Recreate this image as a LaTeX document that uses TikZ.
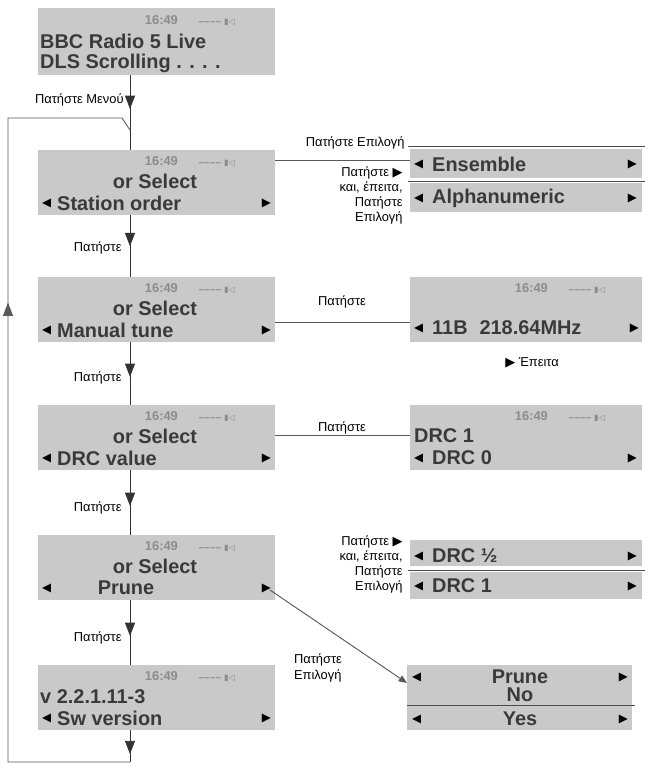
\documentclass[tikz,border=0pt]{standalone}
\usepackage{fontspec}
\setmainfont{Liberation Sans}
\newfontfamily\symfont{DejaVu Sans}
\usetikzlibrary{arrows.meta}
\usetikzlibrary{positioning}
\usetikzlibrary{decorations.markings}
\definecolor{lcdgray}{HTML}{C9C9C9}
\definecolor{lcdtext}{HTML}{3A3A3A}
\definecolor{timegray}{HTML}{8C8C8C}
\newcommand{\la}{{\symfont\fontsize{10}{10}\selectfont ◀}}
\newcommand{\ra}{{\symfont\fontsize{10}{10}\selectfont ▶}}
\newcommand{\tri}{{\symfont ▶}}
\newcommand{\clockline}{16:49\hspace{1.6em}{\symfont\fontsize{7}{7}\selectfont ‒‒‒‒ ▮◁}}

\begin{document}
\begin{tikzpicture}[x=0.03cm, y=-0.03cm,
	lcd/.style={fill=lcdgray, inner sep=0pt, anchor=north west},
	big/.style={text=lcdtext, font=\bfseries\fontsize{17}{19}\selectfont, inner sep=0pt},
	clock/.style={text=timegray, font=\bfseries\fontsize{11}{12}\selectfont, inner sep=0pt},
	lbl/.style={font=\fontsize{11}{13}\selectfont, inner sep=1pt, align=right},
	flow/.style={thick, color=black!80, postaction={decorate}, decoration={markings,
		mark=at position #1 with {\arrow{Triangle[length=4mm,width=3mm]}}}},
	link/.style={thick, color=black!65},
	]
	\useasboundingbox (0,0) rectangle (648,770);

	% Left column of screens
	\node[lcd, minimum width=237*0.03cm, minimum height=67*0.03cm] (home) at (38,8) {};
	\node[lcd, minimum width=237*0.03cm, minimum height=65*0.03cm] (order) at (38,150) {};
	\node[lcd, minimum width=237*0.03cm, minimum height=65*0.03cm] (tune) at (38,277) {};
	\node[lcd, minimum width=237*0.03cm, minimum height=65*0.03cm] (drc) at (38,405) {};
	\node[lcd, minimum width=237*0.03cm, minimum height=65*0.03cm] (prune) at (38,535) {};
	\node[lcd, minimum width=237*0.03cm, minimum height=65*0.03cm] (ver) at (38,665) {};

	% Right column of screens
	\node[lcd, minimum width=232*0.03cm, minimum height=29*0.03cm] (ens) at (410,149) {};
	\node[lcd, minimum width=232*0.03cm, minimum height=29*0.03cm] (alpha) at (410,183) {};
	\node[lcd, minimum width=232*0.03cm, minimum height=65*0.03cm] (freq) at (410,277) {};
	\node[lcd, minimum width=232*0.03cm, minimum height=65*0.03cm] (drcset) at (410,405) {};
	\node[lcd, minimum width=232*0.03cm, minimum height=26*0.03cm] (half) at (410,540) {};
	\node[lcd, minimum width=232*0.03cm, minimum height=27*0.03cm] (one) at (410,572) {};
	\node[lcd, minimum width=225*0.03cm, minimum height=65*0.03cm] (ask) at (407,665) {};

	% Screen texts
	\node[clock] (t0) at (190,20) {\clockline};
	\node[big, anchor=west] (h1) at (40,41) {BBC Radio 5 Live};
	\node[big, anchor=west] (h2) at (40,63) {DLS Scrolling . . . .};

	\foreach \b/\y/\txt in {order/150/Station order, tune/277/Manual tune, drc/405/DRC value} {
		\node[clock] at (190,\y+11) {\clockline};
		\node[big] at (155,\y+31) {or Select};
		\node[big, anchor=west] at (57,\y+53) {\txt};
		\node[anchor=west, inner sep=0pt] at (42,\y+53) {\la};
		\node[anchor=east, inner sep=0pt] at (271,\y+53) {\ra};
	}
	\node[clock] at (190,546) {\clockline};
	\node[big] at (155,566) {or Select};
	\node[big] at (126,588) {Prune};
	\node[anchor=west, inner sep=0pt] at (42,588) {\la};
	\node[anchor=east, inner sep=0pt] at (271,588) {\ra};
	\node[clock] (t5) at (190,676) {\clockline};
	\node[big, anchor=west] (v1) at (40,697) {v 2.2.1.11-3};
	\node[big, anchor=west] (v2) at (57,718) {Sw version};
	\node[anchor=west, inner sep=0pt] at (42,718) {\la};
	\node[anchor=east, inner sep=0pt] at (271,718) {\ra};

	\node[big, anchor=west] at (432,164) {Ensemble};
	\node[big, anchor=west] at (432,198) {Alphanumeric};
	\node[big, anchor=west] at (432,556) {DRC ½};
	\node[big, anchor=west] at (432,586) {DRC 1};
	\foreach \y in {164,198,556,586} {
		\node[anchor=west, inner sep=0pt] at (414,\y) {\la};
		\node[anchor=east, inner sep=0pt] at (637,\y) {\ra};
	}
	\node[clock] at (560,288) {\clockline};
	\node[big, anchor=west] at (432,328) {11B\hspace{0.6em}218.64MHz};
	\node[anchor=west, inner sep=0pt] at (414,328) {\la};
	\node[anchor=east, inner sep=0pt] at (639,328) {\ra};
	\node[clock] at (560,416) {\clockline};
	\node[big, anchor=west] at (414,436) {DRC 1};
	\node[big, anchor=west] at (432,458) {DRC 0};
	\node[anchor=west, inner sep=0pt] at (414,458) {\la};
	\node[anchor=east, inner sep=0pt] at (637,458) {\ra};
	\node[big] at (520,677) {Prune};
	\node[big] at (520,695) {No};
	\node[big] at (520,719) {Yes};
	\foreach \y in {677,719} {
		\node[anchor=west, inner sep=0pt] at (412,\y) {\la};
		\node[anchor=east, inner sep=0pt] at (628,\y) {\ra};
	}

	% Separator rules
	\draw[thick, black!70] (408,146) -- (645,146);
	\draw[thick, black!70] (408,181) -- (645,181);
	\draw[thick, black!70] (408,570) -- (645,570);
	\draw[thick, black!70] (407,705) -- (635,705);

	% Main flow
	\coordinate (bend) at (122,118);
	\coordinate (loopTL) at (8,118);
	\coordinate (loopBL) at (8,762);
	\coordinate (loopB) at (130,762);
	\draw[flow=0.45] (home.south -| 130,0) -- (order.north -| 130,0);
	\draw[flow=0.5] (order.south -| 130,0) -- (tune.north -| 130,0);
	\draw[flow=0.55] (tune.south -| 130,0) -- (drc.north -| 130,0);
	\draw[flow=0.55] (drc.south -| 130,0) -- (prune.north -| 130,0);
	\draw[flow=0.55] (prune.south -| 130,0) -- (ver.north -| 130,0);
	\draw[flow=0.75] (ver.south -| 130,0) -- (loopB);
	\draw[flow=0.65, link] (loopB) -- (loopBL) -- (loopTL) -- (bend) -- (130,130);

	% Side branches
	\draw[link] (order.east |- 0,160) -- (ens.west |- 0,160);
	\draw[link] (tune.east |- 0,322) -- (freq.west |- 0,322);
	\draw[link] (drc.east |- 0,435) -- (drcset.west |- 0,435);
	\draw[link, -{Triangle[length=2.5mm,width=2mm]}] (270,590) -- (ask.west |- 0,683);

	% Labels
	\node[lbl, anchor=east] (menu) at (125,100) {Πατήστε Μενού};
	\foreach \y in {245,375,505,635} \node[lbl, anchor=east] at (123,\y+3) {Πατήστε};
	\node[lbl, anchor=south east] (sel) at (406,151) {Πατήστε Επιλογή};
	\node[lbl, anchor=north east] (cycle1) at (404,165) {Πατήστε \tri\\και, έπειτα,\\Πατήστε\\Επιλογή};
	\node[lbl, anchor=north east] (cycle2) at (404,534) {Πατήστε \tri\\και, έπειτα,\\Πατήστε\\Επιλογή};
	\node[lbl] (p1) at (342,302) {Πατήστε};
	\node[lbl] (p2) at (342,428) {Πατήστε};
	\node[lbl] (then) at (532,363) {\tri\ Έπειτα};
	\node[lbl, align=left] (p3) at (318,668) {Πατήστε\\Επιλογή};
\end{tikzpicture}
\end{document}
